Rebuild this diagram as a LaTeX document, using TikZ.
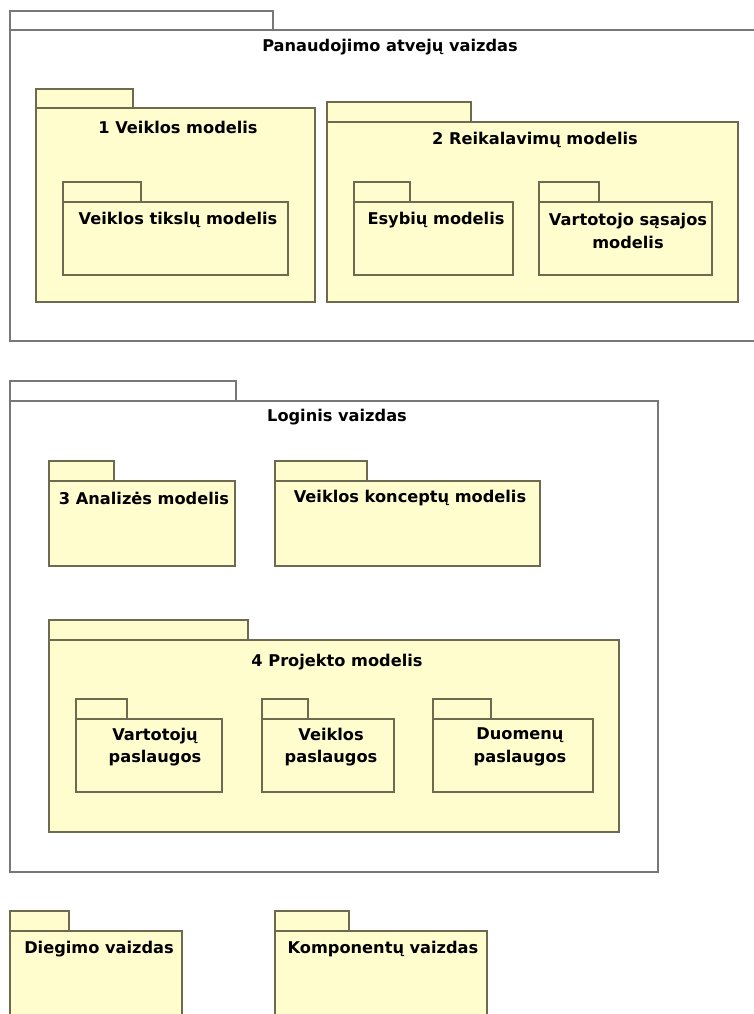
\documentclass[tikz,border=0pt]{standalone}
\usepackage{fontspec}
\setmainfont{DejaVu Sans}
\definecolor{pkgfill}{RGB}{255,253,206}
\definecolor{pkgline}{RGB}{110,106,80}
\definecolor{viewline}{RGB}{120,120,120}
\tikzset{
  viewpkg/.style={draw=viewline, fill=white, line width=1.2pt},
  modelpkg/.style={draw=pkgline, fill=pkgfill, line width=1.2pt},
  pkgtitle/.style={font=\bfseries\fontsize{16.2}{22.5}\selectfont, align=center, inner sep=0pt, text=black}
}
% UML package: name, style, left, tab top, tab right, body top, right, bottom
\newcommand\umlpkg[8]{%
  \path[#2] (#3,#4) rectangle (#5,#6);
  \path[#2] (#3,#6) rectangle (#7,#8);
  \coordinate (#1) at (#3,#6);
}
\begin{document}
\begin{tikzpicture}[x=1pt, y=-1pt]
\clip (0,0) rectangle (754,1014);
\fill[white] (0,0) rectangle (754,1014);

% use case view
\umlpkg{ucview}{viewpkg}{10}{11}{273}{30}{770}{341}
\node[pkgtitle] (ucviewT) at (390,47) {Panaudojimo atvejų vaizdas};

\umlpkg{busmodel}{modelpkg}{36}{89}{133}{108}{315}{302}
\node[pkgtitle] (busmodelT) at (178,127) {1 Veiklos modelis};
\umlpkg{goals}{modelpkg}{63}{182}{141}{202}{288}{275}
\node[pkgtitle] (goalsT) at (178,220) {Veiklos tikslų modelis};

\umlpkg{reqmodel}{modelpkg}{327}{102}{471}{122}{738}{302}
\node[pkgtitle] (reqmodelT) at (535,140) {2 Reikalavimų modelis};
\umlpkg{entity}{modelpkg}{354}{182}{410}{202}{513}{275}
\node[pkgtitle] (entityT) at (436,220) {Esybių modelis};
\umlpkg{ui}{modelpkg}{539}{182}{599}{202}{712}{275}
\node[pkgtitle] (uiT) at (628,231) {Vartotojo sąsajos\\modelis};

% logical view
\umlpkg{logview}{viewpkg}{10}{381}{236}{401}{658}{872}
\node[pkgtitle] (logviewT) at (337,417) {Loginis vaizdas};

\umlpkg{analysis}{modelpkg}{49}{461}{114}{481}{235}{566}
\node[pkgtitle] (analysisT) at (144,498) {3 Analizės modelis};
\umlpkg{concepts}{modelpkg}{275}{461}{367}{481}{540}{566}
\node[pkgtitle] (conceptsT) at (410,498) {Veiklos konceptų modelis};

\umlpkg{design}{modelpkg}{49}{620}{248}{640}{619}{832}
\node[pkgtitle] (designT) at (337,662) {4 Projekto modelis};
\umlpkg{usersvc}{modelpkg}{76}{699}{127}{719}{222}{792}
\node[pkgtitle] (usersvcT) at (155,747) {Vartotojų\\paslaugos};
\umlpkg{bussvc}{modelpkg}{262}{699}{308}{719}{394}{792}
\node[pkgtitle] (bussvcT) at (331,747) {Veiklos\\paslaugos};
\umlpkg{datasvc}{modelpkg}{433}{699}{491}{719}{593}{792}
\node[pkgtitle] (datasvcT) at (520,747) {Duomenų\\paslaugos};

% deployment and component views
\umlpkg{deploy}{modelpkg}{10}{911}{69}{931}{182}{1030}
\node[pkgtitle] (deployT) at (99,949) {Diegimo vaizdas};
\umlpkg{compview}{modelpkg}{275}{911}{349}{931}{487}{1030}
\node[pkgtitle] (compviewT) at (383,949) {Komponentų vaizdas};
\end{tikzpicture}
\end{document}
